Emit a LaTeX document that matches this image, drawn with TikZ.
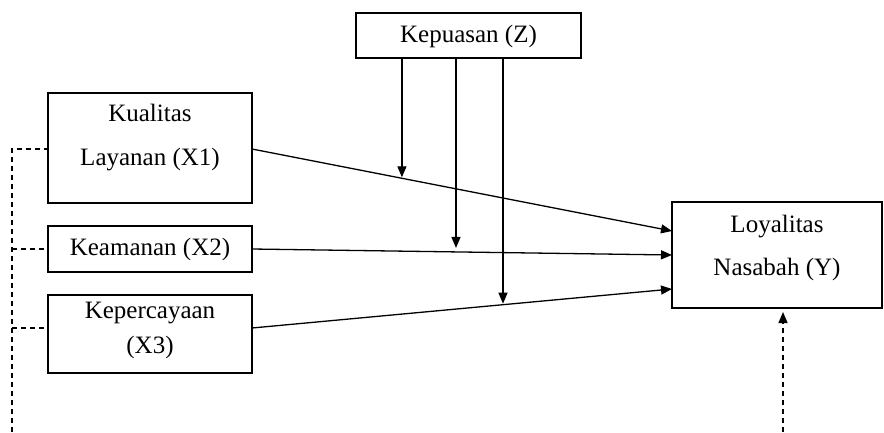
\documentclass[tikz,border=0pt]{standalone}
\usepackage{fontspec}
\setmainfont{Liberation Serif}
\usetikzlibrary{arrows.meta,calc}
\begin{document}
\begin{tikzpicture}[x=1pt,y=-1pt,
  box/.style={draw, line width=1.4pt, inner sep=0pt, outer sep=0pt},
  txt/.style={inner sep=0pt, font=\fontsize{25}{30}\selectfont},
  conn/.style={line width=1.3pt, -{Triangle[length=11pt,width=9pt]}},
  dsh/.style={line width=1.3pt, dash pattern=on 5pt off 4pt}]
\useasboundingbox (0,0) rectangle (884,432);
\fill[white] (0,0) rectangle (884,432);
% boxes
\node[box, minimum width=225pt, minimum height=45pt] (Z) at (468.5,35.5) {};
\node[txt] (zt) at (468.5,36) {Kepuasan (Z)};
\node[box, minimum width=204pt, minimum height=110pt] (X1) at (150,148) {};
\node[txt] (x1a) at (150,113) {Kualitas};
\node[txt] (x1b) at (150,160) {Layanan (X1)};
\node[box, minimum width=204pt, minimum height=46pt] (X2) at (150,249) {};
\node[txt] (x2t) at (150,249) {Keamanan (X2)};
\node[box, minimum width=204pt, minimum height=78pt] (X3) at (150,334) {};
\node[txt] (x3a) at (150,313) {Kepercayaan};
\node[txt] (x3b) at (150,347) {(X3)};
\node[box, minimum width=210pt, minimum height=106pt] (Y) at (777,255) {};
\node[txt] (ya) at (777,227) {Loyalitas};
\node[txt] (yb) at (777,269) {Nasabah (Y)};
% anchor points
\coordinate (x1e) at (252,149);
\coordinate (x2e) at (252,249);
\coordinate (x3e) at (252,328);
\coordinate (y1) at (672,231);
\coordinate (y2) at (672,255);
\coordinate (y3) at (672,289);
% main arrows
\draw[conn] (x1e) -- (y1);
\draw[conn] (x2e) -- (y2);
\draw[conn] (x3e) -- (y3);
% moderation arrows
\path (x1e) -- (y1) coordinate[pos=0.357] (m1);
\path (x2e) -- (y2) coordinate[pos=0.4857] (m2);
\path (x3e) -- (y3) coordinate[pos=0.5976] (m3);
\draw[conn] (Z.south -| m1) -- ($(m1)+(0,-1)$);
\draw[conn] (Z.south -| m2) -- ($(m2)+(0,-4)$);
\draw[conn] (Z.south -| m3) -- ($(m3)+(0,-1)$);
% dashed lines
\coordinate (lt) at (12,149);
\coordinate (lb) at (12,432);
\draw[dsh] (lb) -- (lt) -- (X1.west |- lt);
\draw[dsh] (lt |- x2e) -- (X2.west |- x2e);
\draw[dsh] (lt |- x3e) -- (X3.west |- x3e);
\coordinate (rb) at (783,432);
\draw[dsh, -{Triangle[length=11pt,width=9pt]}] (rb) -- ($(Y.south -| rb)+(0,4)$);
\end{tikzpicture}
\end{document}
